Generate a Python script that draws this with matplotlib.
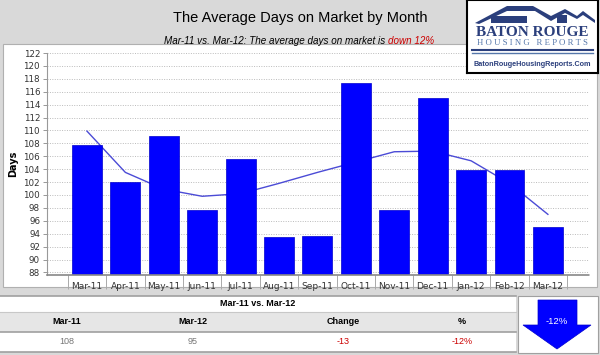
import numpy as np
import matplotlib
matplotlib.use("Agg")
import matplotlib.pyplot as plt
from matplotlib.patches import Rectangle, Polygon

months = ["Mar-11", "Apr-11", "May-11", "Jun-11", "Jul-11", "Aug-11", "Sep-11",
          "Oct-11", "Nov-11", "Dec-11", "Jan-12", "Feb-12", "Mar-12"]
days = [107.8, 102.0, 109.2, 97.7, 105.6, 93.5, 93.6, 117.3, 97.7, 115.1, 103.9, 103.9, 95.0]
trend = [109.9, 103.5, 100.9, 99.8, 100.2, 101.8, 103.5, 105.1, 106.7, 106.8, 105.3, 101.8, 97.0]
y_ticks = list(range(88, 123, 2))

table_cols = ["Mar-11", "Mar-12", "Change", "%"]
table_vals = ["108", "95", "-13", "-12%"]

W, H = 600, 355
fig = plt.figure(figsize=(6, 3.55), dpi=100)
fig.patch.set_facecolor("#d9d9d9")


def fx(x):
  return x / W


def fy(y):
  return 1 - y / H


def rect(x0, y0, x1, y1, z=-5, **kw):
  fig.patches.append(Rectangle((fx(x0), fy(y1)), (x1 - x0) / W, (y1 - y0) / H,
                               transform=fig.transFigure, zorder=z, **kw))


# white chart panel
rect(3, 44, 597, 287, facecolor="white", edgecolor="#b0b0b0", lw=0.8)

fig.text(fx(300), fy(18), "The Average Days on Market by Month", ha="center", va="center",
         fontsize=10.5, family="Liberation Sans")
sub1 = "Mar-11 vs. Mar-12: The average days on market is "
t = fig.text(fx(164), fy(41), sub1, ha="left", va="center", fontsize=7.1,
             style="italic", family="Liberation Sans")
fig.canvas.draw()
bb = t.get_window_extent()
fig.text(bb.x1 / W, fy(41), "down 12%", ha="left", va="center", fontsize=7.1,
         style="italic", family="Liberation Sans", color="#cc0000")

# main chart
ax = fig.add_axes([fx(47), fy(275), (589 - 47) / W, (275 - 52.7) / H])
ax.set_facecolor("none")
x = np.arange(len(months))
ax.plot(x, trend, color="#4b4bd6", lw=1.0, zorder=1)
ax.bar(x, days, width=0.78, color="#0000ff", edgecolor="#0000cc", lw=0.5, zorder=2)
ax.set_xlim(-1.04, 13.07)
ax.set_ylim(87.6, 122.05)
ax.set_yticks(y_ticks)
ax.set_yticklabels([str(v) for v in y_ticks], fontsize=6.3, color="#333333")
ax.yaxis.grid(True, color="#bbbbbb", linestyle=(0, (1, 1.5)), lw=0.7)
ax.set_axisbelow(True)
ax.set_xticks(x)
ax.set_xticklabels(months, fontsize=6.5, color="#333333")
ax.tick_params(axis="x", length=0, pad=5)
ax.set_xticks(np.arange(-0.5, 13, 1), minor=True)
ax.tick_params(axis="x", which="minor", length=10, color="#aaaaaa", width=0.7, direction="out")
ax.tick_params(axis="y", length=3, color="#888888", width=0.6, pad=2)
for s in ["top", "right"]:
  ax.spines[s].set_visible(False)
ax.spines["left"].set_color("#999999")
ax.spines["left"].set_linewidth(0.8)
ax.spines["bottom"].set_color("#888888")
ax.spines["bottom"].set_linestyle((0, (1, 1)))
ax.spines["bottom"].set_linewidth(1.2)
ax.set_ylabel("Days", fontsize=7, fontweight="bold")
ax.yaxis.set_label_coords(-0.053, 0.5)

# table
rect(0, 296, 516, 352, facecolor="white", edgecolor="none")
rect(0, 312, 516, 332, facecolor="#e6e6e6", edgecolor="none")
for yy, c, lw in [(296, "#a0a0a0", 1.2), (312, "#c8c8c8", 0.8), (332, "#a0a0a0", 1.2), (352, "#a0a0a0", 1.2)]:
  fig.add_artist(plt.Line2D([0, fx(516)], [fy(yy), fy(yy)], color=c, lw=lw, transform=fig.transFigure))
fig.text(fx(258), fy(304), "Mar-11 vs. Mar-12", ha="center", va="center", fontsize=6.5,
         fontweight="bold", family="Liberation Sans")
col_x = [67, 193, 343, 462]
for cx, name, val in zip(col_x, table_cols, table_vals):
  fig.text(fx(cx), fy(322), name, ha="center", va="center", fontsize=6.5,
           fontweight="bold", family="Liberation Sans")
  vcol = "#cc0000" if val.startswith("-") else "#777777"
  fig.text(fx(cx), fy(342), val, ha="center", va="center", fontsize=6.5,
           family="Liberation Sans", color=vcol)

# arrow box
rect(518, 296, 598, 353, facecolor="white", edgecolor="#a0a0a0", lw=0.8)
arrow = [(538, 300), (577, 300), (577, 325), (591, 325), (557, 349), (523, 325), (538, 325)]
fig.patches.append(Polygon([(fx(a), fy(b)) for a, b in arrow], closed=True,
                           transform=fig.transFigure, facecolor="#0000ff", edgecolor="#0000cc", lw=0.5))
fig.text(fx(557), fy(322), table_vals[3], ha="center", va="center", fontsize=6.8,
         color="white", family="Liberation Sans")

# logo
lax = fig.add_axes([fx(467), fy(73), (598 - 467) / W, 73 / H])
lax.set_xlim(0, 131)
lax.set_ylim(73, 0)
lax.set_xticks([])
lax.set_yticks([])
lax.set_facecolor("white")
for s in lax.spines.values():
  s.set_color("black")
  s.set_linewidth(1.5)
roof = [(8, 23), (40, 6), (66, 6), (84, 16), (98, 9), (110, 16), (116, 11), (128, 20), (128, 23),
        (116, 15), (110, 19), (98, 13), (84, 21), (68, 11), (40, 11), (12, 24)]
lax.add_patch(Polygon(roof, closed=True, facecolor="#2b3f7c", edgecolor="none"))
lax.add_patch(Rectangle((24, 16), 36, 7, facecolor="#2b3f7c"))
lax.add_patch(Rectangle((90, 15), 10, 8, facecolor="#2b3f7c"))
lax.text(65, 32, "BATON ROUGE", ha="center", va="center", fontsize=11, fontweight="bold",
         family="Liberation Serif", color="#2b3f7c")
lax.text(65, 43, "H O U S I N G   R E P O R T S", ha="center", va="center", fontsize=6.3,
         family="Liberation Serif", color="#5577aa")
lax.plot([5, 126], [49.5, 49.5], color="#2b3f7c", lw=1.5)
lax.plot([5, 126], [52.5, 52.5], color="#5577aa", lw=1.0)
lax.text(65, 64, "BatonRougeHousingReports.Com", ha="center", va="center", fontsize=5.2,
         fontweight="bold", family="Liberation Sans", color="#2b3f7c")

fig.savefig("out.png", dpi=100, facecolor=fig.get_facecolor())
